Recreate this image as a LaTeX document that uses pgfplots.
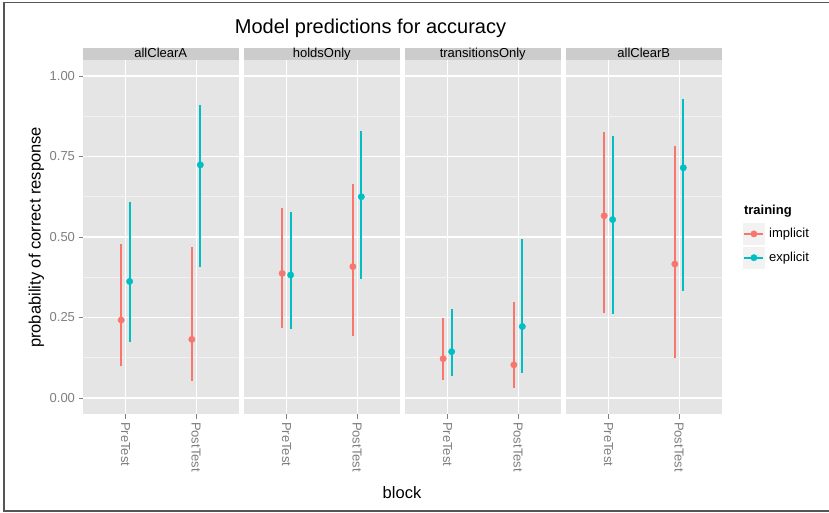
\documentclass[border=0pt]{standalone}
\usepackage{fontspec}
\setmainfont{Liberation Sans}
\usepackage{pgfplots}
\pgfplotsset{compat=1.18}
\usepackage{pgfplotstable}

\definecolor{implicitc}{HTML}{F8766D}
\definecolor{explicitc}{HTML}{00BFC4}
\definecolor{panelbg}{HTML}{E5E5E5}
\definecolor{stripbg}{HTML}{CCCCCC}
\definecolor{minorgrid}{HTML}{F2F2F2}
\definecolor{keybg}{HTML}{F2F2F2}
\definecolor{greyfifty}{HTML}{7F7F7F}
\definecolor{framec}{HTML}{555555}

% x: PreTest = 1, PostTest = 2 (implicit dodged -0.06, explicit +0.06)
\pgfplotstableread{
x y lo hi
0.94 0.242 0.100 0.478
1.94 0.182 0.054 0.470
}\Aimp
\pgfplotstableread{
x y lo hi
1.06 0.362 0.173 0.608
2.06 0.724 0.408 0.909
}\Aexp
\pgfplotstableread{
x y lo hi
0.94 0.387 0.216 0.589
1.94 0.408 0.193 0.666
}\Himp
\pgfplotstableread{
x y lo hi
1.06 0.382 0.215 0.579
2.06 0.625 0.370 0.829
}\Hexp
\pgfplotstableread{
x y lo hi
0.94 0.122 0.056 0.247
1.94 0.103 0.030 0.297
}\Timp
\pgfplotstableread{
x y lo hi
1.06 0.144 0.069 0.276
2.06 0.222 0.077 0.494
}\Texp
\pgfplotstableread{
x y lo hi
0.94 0.566 0.263 0.827
1.94 0.416 0.125 0.784
}\Bimp
\pgfplotstableread{
x y lo hi
1.06 0.554 0.260 0.815
2.06 0.715 0.332 0.928
}\Bexp

\newcommand{\tickfont}{\fontsize{13}{15}\selectfont}

\pgfplotsset{
  panel/.style={
    scale only axis, width=155.5pt, height=354pt,
    anchor=south west,
    xmin=0.4, xmax=2.6, ymin=-0.0497, ymax=1.0497,
    axis line style={draw=none},
    axis background/.style={fill=panelbg},
    xtick={1,2}, xticklabels={PreTest,PostTest},
    ytick={0,0.25,0.5,0.75,1},
    minor ytick={0.125,0.375,0.625,0.875},
    grid=both,
    major grid style={white, line width=1.1pt},
    minor grid style={minorgrid, line width=0.55pt},
    tick align=outside, major tick length=4.5pt, minor tick length=0pt,
    tick style={greyfifty, line width=0.8pt},
    xtick pos=bottom, ytick pos=left,
    xticklabel style={rotate=-90, anchor=west, font=\tickfont, text=greyfifty},
    yticklabel style={font=\tickfont, text=greyfifty},
    /pgf/number format/assume math mode=true,
    yticklabel={\pgfmathprintnumber[fixed, fixed zerofill, precision=2]{\tick}},
  },
  noy/.style={yticklabels={}, major y tick style={draw=none}},
}

\newcommand{\series}[2]{%
  \addplot[#2, only marks, mark=*, mark size=3.2pt,
    error bars/.cd, y dir=both, y explicit, error mark=none,
    error bar style={line width=1.7pt, #2}]
    table[x=x, y=y, y error plus expr=\thisrow{hi}-\thisrow{y},
          y error minus expr=\thisrow{y}-\thisrow{lo}] {#1};}

\newcommand{\strip}[2]{%
  \fill[stripbg] (#1,452) rectangle ++(155.5,12);
  \node[font=\tickfont, anchor=base] at (#1+77.75,454.8) {#2};}

\begin{document}
\begin{tikzpicture}[x=1pt,y=1pt]
\useasboundingbox (0,0) rectangle (829,512);
\fill[white] (0,0) rectangle (829,512);

\begin{axis}[panel, at={(83pt,98pt)}]
\series{\Aimp}{implicitc}
\series{\Aexp}{explicitc}
\end{axis}

\begin{axis}[panel, noy, at={(244pt,98pt)}]
\series{\Himp}{implicitc}
\series{\Hexp}{explicitc}
\end{axis}

\begin{axis}[panel, noy, at={(405pt,98pt)}]
\series{\Timp}{implicitc}
\series{\Texp}{explicitc}
\end{axis}

\begin{axis}[panel, noy, at={(566pt,98pt)},
  legend style={at={(1.1318,0.5424)}, anchor=north west, draw=none, fill=none,
    inner sep=0pt, outer sep=0pt, row sep=0pt, column sep=3pt,
    font=\tickfont, nodes={inner sep=0.4pt}},
  legend cell align=left]
\addplot[implicitc, only marks, mark=*, mark size=3.2pt,
  legend image code/.code={%
    \draw[white, fill=keybg, line width=0.8pt] (0pt,-11.5pt) rectangle (23pt,11.5pt);
    \draw[implicitc, line width=1.7pt] (2pt,0pt) -- (21pt,0pt);
    \fill[implicitc] (11.5pt,0pt) circle (3.2pt);},
  error bars/.cd, y dir=both, y explicit, error mark=none,
  error bar style={line width=1.7pt, implicitc}]
  table[x=x, y=y, y error plus expr=\thisrow{hi}-\thisrow{y},
        y error minus expr=\thisrow{y}-\thisrow{lo}] {\Bimp};
\addlegendentry{implicit}
\addplot[explicitc, only marks, mark=*, mark size=3.2pt,
  legend image code/.code={%
    \draw[white, fill=keybg, line width=0.8pt] (0pt,-11.5pt) rectangle (23pt,11.5pt);
    \draw[explicitc, line width=1.7pt] (2pt,0pt) -- (21pt,0pt);
    \fill[explicitc] (11.5pt,0pt) circle (3.2pt);},
  error bars/.cd, y dir=both, y explicit, error mark=none,
  error bar style={line width=1.7pt, explicitc}]
  table[x=x, y=y, y error plus expr=\thisrow{hi}-\thisrow{y},
        y error minus expr=\thisrow{y}-\thisrow{lo}] {\Bexp};
\addlegendentry{explicit}
\end{axis}

\strip{83}{allClearA}
\strip{244}{holdsOnly}
\strip{405}{transitionsOnly}
\strip{566}{allClearB}

\node[font=\fontsize{20}{24}\selectfont, anchor=base] at (370.5,478.7) {Model predictions for accuracy};
\node[font=\fontsize{16.5}{20}\selectfont, anchor=base, rotate=90] at (40.5,274.6) {probability of correct response};
\node[font=\fontsize{16.5}{20}\selectfont, anchor=base] at (402,14) {block};
\node[font=\bfseries\tickfont, anchor=base west] at (740.5,298) {training};

\draw[framec, line width=1.6pt] (829,509.3) -- (4,509.3) -- (4,1.2) -- (829,1.2);
\end{tikzpicture}
\end{document}
